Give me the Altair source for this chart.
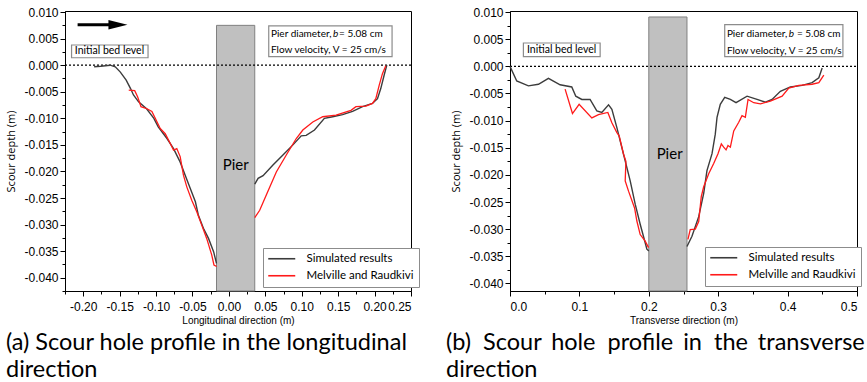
import altair as alt
import pandas as pd

# ---------------- profile data (x in m, scour depth in m) ----------------
# Longitudinal section: upstream side of pier, then downstream side
lon_sim_up_x = [-0.185, -0.176, -0.163, -0.156, -0.149, -0.141, -0.135, -0.131, -0.124, -0.113, -0.103, -0.097,
                -0.085, -0.076, -0.067, -0.060, -0.053, -0.046, -0.042, -0.035, -0.028, -0.021, -0.017]
lon_sim_up_y = [-0.0003, -0.0002, 0.0, -0.0003, -0.0013, -0.0028, -0.0044, -0.0056, -0.0069, -0.0082, -0.0100, -0.0116,
                -0.0138, -0.0157, -0.0182, -0.0207, -0.0232, -0.0257, -0.0282, -0.0307, -0.0326, -0.0351, -0.0373]
lon_exp_up_x = [-0.1375, -0.1293, -0.1252, -0.1207, -0.1125, -0.1057, -0.1011, -0.0943, -0.0874, -0.0806, -0.0760,
                -0.0715, -0.0669, -0.0624, -0.0578, -0.0510, -0.0441, -0.0373, -0.0305, -0.0236, -0.0205, -0.0168]
lon_exp_up_y = [-0.0047, -0.0048, -0.0060, -0.0078, -0.0082, -0.0087, -0.0100, -0.0119, -0.0129, -0.0147, -0.0160,
                -0.0157, -0.0172, -0.0207, -0.0229, -0.0254, -0.0276, -0.0301, -0.0326, -0.0357, -0.0376, -0.0379]
lon_sim_dn_x = [0.0355, 0.0401, 0.0469, 0.0605, 0.0742, 0.0879, 0.0993, 0.1061, 0.1175, 0.1311, 0.1425, 0.1561,
                0.1698, 0.1835, 0.1971, 0.2040, 0.2085, 0.2131, 0.2168]
lon_sim_dn_y = [-0.0224, -0.0213, -0.0208, -0.0188, -0.0169, -0.0150, -0.0133, -0.0132, -0.0122, -0.0100, -0.0097,
                -0.0093, -0.0087, -0.0078, -0.0072, -0.0063, -0.0044, -0.0019, 0.0]
lon_exp_dn_x = [0.0355, 0.0423, 0.0515, 0.0651, 0.0788, 0.0925, 0.1015, 0.1152, 0.1288, 0.1471, 0.1676, 0.1744,
                0.1881, 0.1971, 0.2017, 0.2063, 0.2108, 0.2154]
lon_exp_dn_y = [-0.0287, -0.0273, -0.0244, -0.0201, -0.0169, -0.0138, -0.0122, -0.0107, -0.0097, -0.0094, -0.0085,
                -0.0078, -0.0077, -0.0072, -0.0063, -0.0038, -0.0016, -0.0001]

# Transverse section: left side of pier, then right side
tra_sim_l_x = [0.0, 0.0097, 0.0265, 0.0410, 0.0554, 0.0722, 0.0890, 0.0948, 0.1035, 0.1154, 0.1251, 0.1323, 0.1420,
               0.1468, 0.1540, 0.1636, 0.1732, 0.1804, 0.1876, 0.1948, 0.1972, 0.2000]
tra_sim_l_y = [0.0, -0.0027, -0.0036, -0.0033, -0.0022, -0.0034, -0.0038, -0.0055, -0.0061, -0.0061, -0.0082, -0.0085,
               -0.0071, -0.0079, -0.0113, -0.0162, -0.0211, -0.0254, -0.0291, -0.0325, -0.0337, -0.0340]
tra_exp_l_x = [0.0794, 0.0900, 0.0996, 0.1179, 0.1275, 0.1410, 0.1468, 0.1540, 0.1573, 0.1636, 0.1670, 0.1660, 0.1708,
               0.1795, 0.1828, 0.1876, 0.1948, 0.1997]
tra_exp_l_y = [-0.0042, -0.0087, -0.0070, -0.0095, -0.0089, -0.0085, -0.0104, -0.0122, -0.0128, -0.0162, -0.0175,
               -0.0211, -0.0230, -0.0261, -0.0285, -0.0310, -0.0322, -0.0334]
tra_sim_r_x = [0.2550, 0.2622, 0.2719, 0.2791, 0.2838, 0.2911, 0.2958, 0.2983, 0.3030, 0.3094, 0.3175, 0.3257, 0.3416,
               0.3560, 0.3680, 0.3776, 0.3896, 0.4040, 0.4209, 0.4353, 0.4450, 0.4498]
tra_sim_r_y = [-0.0332, -0.0313, -0.0277, -0.0234, -0.0192, -0.0161, -0.0125, -0.0094, -0.0070, -0.0057, -0.0061,
               -0.0067, -0.0055, -0.0061, -0.0066, -0.0061, -0.0046, -0.0038, -0.0035, -0.0030, -0.0021, -0.0003]
tra_exp_r_x = [0.2564, 0.2597, 0.2670, 0.2719, 0.2756, 0.2791, 0.2863, 0.2935, 0.2997, 0.3045, 0.3079, 0.3113, 0.3141,
               0.3175, 0.3224, 0.3296, 0.3343, 0.3391, 0.3430, 0.3512, 0.3608, 0.3752, 0.3921, 0.4017, 0.4162, 0.4353,
               0.4450, 0.4522]
tra_exp_r_y = [-0.0319, -0.0301, -0.0300, -0.0286, -0.0240, -0.0222, -0.0198, -0.0179, -0.0161, -0.0143, -0.0149,
               -0.0154, -0.0146, -0.0149, -0.0119, -0.0103, -0.0091, -0.0094, -0.0061, -0.0067, -0.0069, -0.0064,
               -0.0055, -0.0040, -0.0035, -0.0033, -0.0030, -0.0016]

SERIES = ["Simulated results", "Melville and Raudkivi"]
COLORS = ["#3c3c3c", "#ff1a1a"]

# Pier extents: [left, right, top]
lon_pier = [-0.017, 0.0355, 0.0075]
tra_pier = [0.200, 0.255, 0.0091]

# Axis ranges and tick values
lon_xdom = [-0.225, 0.25]
lon_ydom = [-0.0425, 0.0102]
tra_xdom = [0.0, 0.5]
tra_ydom = [-0.0414, 0.0102]
y_major = [round(-0.040 + 0.005 * k, 4) for k in range(11)]
y_minor_all = [round(-0.0425 + 0.005 * k, 5) for k in range(11)]
lon_x_major = [round(-0.20 + 0.05 * k, 3) for k in range(10)]
lon_x_minor = [round(-0.225 + 0.05 * k, 4) for k in range(10)]
tra_x_major = [round(0.1 * k, 2) for k in range(6)]
tra_x_minor = [round(0.05 + 0.1 * k, 3) for k in range(5)]

LABEL_FONT = "Liberation Sans"
TEXT_FONT = "Lato"
BOX_FS = 10


def series_frame(parts):
    rows = []
    for seg, (xs, ys, name) in enumerate(parts):
        for i, (xv, yv) in enumerate(zip(xs, ys)):
            rows.append({"x": xv, "y": yv, "series": name, "seg": seg, "i": i})
    return pd.DataFrame(rows)


def panel(sim_parts, exp_parts, pier, xdom, ydom, xmaj, xmin, xfmt, xtitle,
          bed_box, bed_txt, par_box, par_lines, pier_lbl, caption, arrow=None,
          width=346, height=280, legend_xy=(198, 237), caption_dx=0):
    xs = alt.Scale(domain=xdom, nice=False, zero=False)
    ys = alt.Scale(domain=ydom, nice=False, zero=False)
    y_minor = [v for v in y_minor_all if ydom[0] <= v <= ydom[1]]
    color = alt.Color(
        "series:N",
        scale=alt.Scale(domain=SERIES, range=COLORS),
        legend=alt.Legend(
            title=None, orient="none", legendX=legend_xy[0], legendY=legend_xy[1],
            symbolType="M-3,0H3", symbolSize=81, symbolStrokeWidth=1.6,
            symbolOffset=8, labelOffset=19,
            labelFont=TEXT_FONT, labelFontSize=11.5, labelColor="black",
            strokeColor="#8c8c8c", fillColor="white", padding=5, rowPadding=4,
        ),
    )

    x_main = alt.X("x:Q", scale=xs, title=xtitle, axis=alt.Axis(
        values=xmaj, format=xfmt, labelExpr="replace(datum.label, '\u2212', '-')",
        labelFont=LABEL_FONT, labelFontSize=12, labelColor="black", labelPadding=5,
        tickSize=5, tickColor="black", domainColor="black", grid=False,
        titleFont=LABEL_FONT, titleFontSize=10, titleFontWeight="normal",
        titleColor="black", titlePadding=3))
    y_main = alt.Y("y:Q", scale=ys, title="Scour depth (m)", axis=alt.Axis(
        values=y_major, format=".3f", labelExpr="replace(datum.label, '\u2212', '-')",
        labelFont=LABEL_FONT, labelFontSize=12, labelColor="black", labelPadding=2,
        tickSize=5, tickColor="black", domainColor="black", grid=False,
        titleFont="Open Sans", titleFontSize=11, titleFontWeight="normal",
        titleColor="black", titlePadding=7))
    x_none = alt.X("x:Q", scale=xs, axis=None)
    y_none = alt.Y("y:Q", scale=ys, axis=None)

    # pier block
    pier_df = pd.DataFrame({"x": [pier[0]], "x2": [pier[1]], "y": [ydom[0]], "y2": [pier[2]]})
    pier_layer = alt.Chart(pier_df).mark_rect(fill="#c0c0c0", stroke="#808080", strokeWidth=1).encode(
        x=x_none, x2="x2:Q", y=y_none, y2="y2:Q")

    # initial bed level (dotted)
    bed_df = pd.DataFrame({"x": [xdom[0]], "x2": [xdom[1]], "y": [0.0]})
    bed_layer = alt.Chart(bed_df).mark_rule(color="black", strokeDash=[2, 2], strokeWidth=1.3).encode(
        x=x_none, x2="x2:Q", y=y_none)

    sim_df = series_frame(sim_parts)
    exp_df = series_frame(exp_parts)
    sim_layer = alt.Chart(sim_df).mark_line(strokeWidth=1.4).encode(
        x=x_main, y=y_main, color=color, detail="seg:N", order="i:Q")
    exp_layer = alt.Chart(exp_df).mark_line(strokeWidth=1.3).encode(
        x=x_none, y=y_none, color=color, detail="seg:N", order="i:Q")

    # annotation boxes
    box_df = pd.DataFrame([bed_box, par_box], columns=["x", "x2", "y", "y2"])
    box_layer = alt.Chart(box_df).mark_rect(fill="white", stroke="#8c8c8c", strokeWidth=1.2).encode(
        x=x_none, x2="x2:Q", y=y_none, y2="y2:Q")

    bed_df_t = pd.DataFrame([bed_txt], columns=["x", "y", "t"])
    bed_txt_layer = alt.Chart(bed_df_t).mark_text(
        align="left", baseline="middle", font=TEXT_FONT, fontSize=10.5, color="black").encode(
        x=x_none, y=y_none, text="t:N")
    txt_df = pd.DataFrame([r[:3] for r in par_lines if r[3] == "normal"], columns=["x", "y", "t"])
    txt_layer = alt.Chart(txt_df).mark_text(
        align="left", baseline="middle", font=TEXT_FONT, fontSize=BOX_FS, color="black").encode(
        x=x_none, y=y_none, text="t:N")
    it_df = pd.DataFrame([r[:3] for r in par_lines if r[3] == "italic"], columns=["x", "y", "t"])
    it_layer = alt.Chart(it_df).mark_text(
        align="left", baseline="middle", font=TEXT_FONT, fontSize=BOX_FS, fontStyle="italic",
        color="black").encode(x=x_none, y=y_none, text="t:N")

    pier_txt_df = pd.DataFrame({"x": [pier_lbl[0]], "y": [pier_lbl[1]], "t": ["Pier"]})
    pier_txt = alt.Chart(pier_txt_df).mark_text(
        align="center", baseline="middle", font=TEXT_FONT, fontSize=15, color="black").encode(
        x=x_none, y=y_none, text="t:N")

    # minor ticks
    minor_df = pd.DataFrame({"x": [xdom[0]], "y": [0.0]})
    minor_layer = alt.Chart(minor_df).mark_point(opacity=0).encode(
        x=alt.X("x:Q", scale=xs, axis=alt.Axis(orient="bottom", values=xmin, labels=False, tickSize=3,
                                               tickColor="black", domain=False, grid=False, title=None)),
        y=alt.Y("y:Q", scale=ys, axis=alt.Axis(orient="left", values=y_minor, labels=False, tickSize=3,
                                               tickColor="black", domain=False, grid=False, title=None)))

    layers = [pier_layer, bed_layer, sim_layer, exp_layer, box_layer, bed_txt_layer, txt_layer, it_layer,
              pier_txt]

    if arrow is not None:
        shaft_df = pd.DataFrame({"x": [arrow[0]], "x2": [arrow[1]], "y": [arrow[3]]})
        shaft = alt.Chart(shaft_df).mark_rule(color="black", strokeWidth=3).encode(
            x=x_none, x2="x2:Q", y=y_none)
        head_df = pd.DataFrame({"x": [arrow[2]], "y": [arrow[3]]})
        head = alt.Chart(head_df).mark_point(
            shape="M-1,-0.5L1,0L-1,0.5Z", size=361, filled=True, color="black", opacity=1).encode(
            x=x_none, y=y_none)
        layers += [shaft, head]

    layers.append(minor_layer)

    return alt.layer(*layers).resolve_axis(x="independent", y="independent").properties(
        width=width, height=height,
        title=alt.TitleParams(caption, orient="bottom", anchor="start", frame="bounds",
                              font=TEXT_FONT, fontSize=23.5, fontWeight="normal", color="black",
                              lineHeight=27, offset=6, dx=caption_dx),
    )


# justified first line of the (b) caption: wider word gaps
WIDE = "\u00a0\u00a0"
MID = "\u00a0\u2006"
b_words = ["(b)", "Scour", "hole", "profile", "in", "the", "transverse"]
b_gaps = [WIDE, MID, WIDE, MID, WIDE, MID]
b_line = b_words[0] + "".join(g + w for g, w in zip(b_gaps, b_words[1:]))

left = panel(
    sim_parts=[(lon_sim_up_x, lon_sim_up_y, SERIES[0]), (lon_sim_dn_x, lon_sim_dn_y, SERIES[0])],
    exp_parts=[(lon_exp_up_x, lon_exp_up_y, SERIES[1]), (lon_exp_dn_x, lon_exp_dn_y, SERIES[1])],
    pier=lon_pier, xdom=lon_xdom, ydom=lon_ydom, xmaj=lon_x_major, xmin=lon_x_minor, xfmt=".2f",
    xtitle="Longitudinal direction (m)",
    bed_box=[-0.216, -0.111, 0.0038, 0.0014],
    bed_txt=[-0.2115, 0.0026, "Initial bed level"],
    par_box=[0.0547, 0.2240, 0.0074, 0.0016],
    par_lines=[[0.0578, 0.0058, "Pier diameter,", "normal"],
               [0.1429, 0.0058, "b", "italic"],
               [0.1512, 0.0058, "= 5.08 cm", "normal"],
               [0.0578, 0.0029, "Flow velocity, V = 25 cm/s", "normal"]],
    pier_lbl=[0.0093, -0.0188],
    caption=["(a) Scour hole profile in the longitudinal", "direction"],
    arrow=[-0.2077, -0.160, -0.1523, 0.0076],
    width=346, height=280, legend_xy=(198, 237),
)

right = panel(
    sim_parts=[(tra_sim_l_x, tra_sim_l_y, SERIES[0]), (tra_sim_r_x, tra_sim_r_y, SERIES[0])],
    exp_parts=[(tra_exp_l_x, tra_exp_l_y, SERIES[1]), (tra_exp_r_x, tra_exp_r_y, SERIES[1])],
    pier=tra_pier, xdom=tra_xdom, ydom=tra_ydom, xmaj=tra_x_major, xmin=tra_x_minor, xfmt=".1f",
    xtitle="Transverse direction (m)",
    bed_box=[0.0193, 0.1299, 0.0043, 0.0018],
    bed_txt=[0.0245, 0.0030, "Initial bed level"],
    par_box=[0.3094, 0.4797, 0.0077, 0.0018],
    par_lines=[[0.3125, 0.0059, "Pier diameter,", "normal"],
               [0.4018, 0.0059, "b", "italic"],
               [0.4134, 0.0059, "= 5.08 cm", "normal"],
               [0.3125, 0.0029, "Flow velocity, V = 25 cm/s", "normal"]],
    pier_lbl=[0.2300, -0.0162],
    caption=[b_line, "direction"],
    width=347, height=280, legend_xy=(195, 236), caption_dx=-5,
)

chart = alt.hconcat(left, right, spacing=25).resolve_scale(color="independent").properties(
    padding={"left": 5, "top": 5, "right": 0, "bottom": 0},
    background="white",
).configure_view(stroke="black", strokeWidth=1)

chart.save("out.html", embed_options={"renderer": "svg", "actions": False})
